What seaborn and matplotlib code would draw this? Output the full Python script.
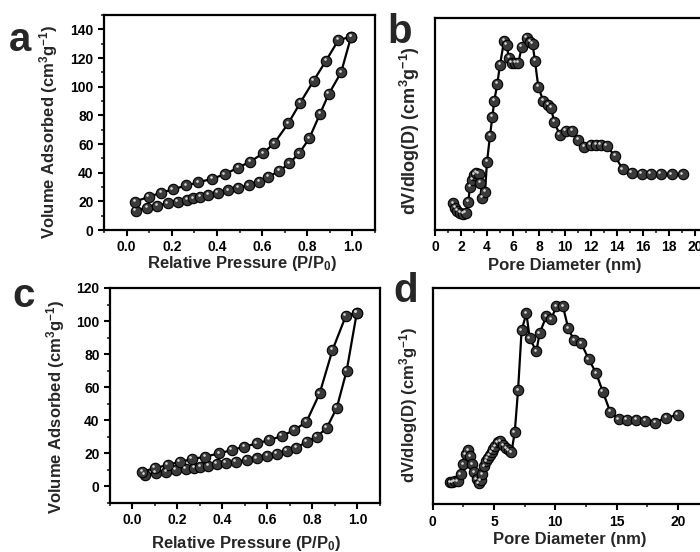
import matplotlib
matplotlib.use('Agg')
import matplotlib.pyplot as plt
import seaborn as sns
from matplotlib.ticker import MultipleLocator, NullLocator
from matplotlib.transforms import offset_copy

# data
# panel a: N2 isotherm (adsorption / desorption branches)
a_ads_p = [0.041, 0.090, 0.135, 0.182, 0.227, 0.268, 0.295, 0.327, 0.360, 0.404, 0.450, 0.495,
           0.540, 0.587, 0.628, 0.676, 0.720, 0.764, 0.809, 0.856, 0.895, 0.950, 0.994]
a_ads_v = [13.5, 15.6, 17.0, 18.6, 19.8, 21.2, 22.1, 23.2, 24.4, 26.0, 27.7, 29.5,
           31.1, 33.7, 37.2, 41.1, 46.5, 53.5, 63.9, 80.9, 94.8, 110.0, 134.8]
a_des_p = [0.994, 0.938, 0.883, 0.828, 0.769, 0.716, 0.653, 0.604, 0.548, 0.493, 0.434, 0.379,
           0.317, 0.264, 0.204, 0.153, 0.098, 0.038]
a_des_v = [134.8, 132.5, 118.1, 104.1, 88.8, 74.4, 60.4, 53.5, 47.7, 43.5, 38.8, 35.8,
           33.2, 31.1, 28.3, 26.0, 23.2, 19.8]

# panel b: pore size distribution (arbitrary units)
b_d = [1.41, 1.55, 1.70, 1.92, 2.15, 2.35, 2.55, 2.70, 2.85, 3.00, 3.15, 3.35, 3.50, 3.65,
       3.85, 4.00, 4.23, 4.41, 4.56, 4.79, 5.00, 5.31, 5.51, 5.69, 5.90, 6.15, 6.41, 6.67,
       7.05, 7.31, 7.51, 7.69, 7.95, 8.33, 8.72, 8.92, 9.18, 9.60, 10.05, 10.55, 11.03, 11.50,
       11.97, 12.38, 12.74, 13.20, 13.85, 14.44, 15.13, 15.90, 16.59, 17.36, 18.21, 19.05]
b_v = [26.7, 22, 19, 17, 16.5, 17, 28, 43, 50, 55, 57, 56, 47, 32,
       38, 68, 94, 113, 129, 146, 165, 189, 185, 172, 167, 167, 167, 183,
       192, 188, 186, 169, 143, 129, 125, 122, 108, 95, 99.5, 99.5, 90, 83.5,
       85, 85.5, 85.5, 84, 74, 60.7, 57.3, 56, 56, 56, 55.7, 55.7]

# panel c: N2 isotherm
c_ads_p = [0.055, 0.104, 0.151, 0.192, 0.237, 0.274, 0.300, 0.336, 0.375, 0.415, 0.459, 0.507,
           0.552, 0.600, 0.641, 0.686, 0.729, 0.775, 0.819, 0.864, 0.908, 0.952, 0.997]
c_ads_v = [7.0, 8.0, 9.0, 10.0, 10.8, 11.2, 12.0, 12.5, 13.5, 14.0, 15.0, 16.0,
           17.0, 18.5, 19.5, 21.5, 23.5, 27.0, 30.0, 35.5, 47.5, 70.0, 105.0]
c_des_p = [0.997, 0.948, 0.889, 0.832, 0.773, 0.718, 0.664, 0.607, 0.552, 0.496, 0.441, 0.385,
           0.323, 0.264, 0.210, 0.156, 0.099, 0.044]
c_des_v = [105.0, 103.0, 82.5, 56.3, 39.0, 34.0, 30.5, 28.0, 26.0, 24.0, 22.0, 20.0,
           18.0, 16.5, 14.8, 13.0, 11.0, 9.0]

# panel d: pore size distribution (arbitrary units)
d_d = [1.45, 1.60, 1.80, 2.05, 2.30, 2.50, 2.70, 2.90, 3.05, 3.20, 3.40, 3.60, 3.75, 3.90,
       4.05, 4.20, 4.35, 4.50, 4.65, 4.80, 4.95, 5.10, 5.30, 5.50, 5.75, 6.00, 6.20, 6.42,
       6.69, 6.96, 7.25, 7.64, 7.91, 8.45, 8.72, 9.26, 9.67, 10.07, 10.62, 11.05, 11.52, 12.11,
       12.73, 13.33, 13.87, 14.47, 15.17, 15.82, 16.58, 17.34, 18.13, 19.02, 19.97]
d_v = [22, 22, 23, 23, 30, 40, 50, 54, 48, 40, 32, 25, 21, 24,
       30, 38, 43, 46, 49, 52, 55, 58, 62, 63, 59, 56, 54, 52,
       72, 114, 174, 191, 166, 153, 171, 188, 185, 198, 198, 176, 164, 161,
       145, 131, 112.6, 92.6, 85, 84.3, 84.3, 83.6, 81.6, 86.6, 89.3]

iso_ylabel = r'Volume Adsorbed (cm$^{3}$g$^{-1}$)'
psd_ylabel = r'dV/dlog(D) (cm$^{3}$g$^{-1}$)'
iso_xlabel = r'Relative Pressure (P/P$_{0}$)'
psd_xlabel = 'Pore Diameter (nm)'

sns.set_theme(style='ticks')
plt.rcParams['font.family'] = ['Liberation Sans', 'DejaVu Sans']
plt.rcParams['font.weight'] = 'bold'
plt.rcParams['axes.labelweight'] = 'bold'
plt.rcParams['mathtext.fontset'] = 'custom'
plt.rcParams['mathtext.rm'] = 'Liberation Sans:bold'
plt.rcParams['mathtext.bf'] = 'Liberation Sans:bold'
plt.rcParams['mathtext.it'] = 'Liberation Sans:bold'
plt.rcParams['mathtext.default'] = 'rm'

fig = plt.figure(figsize=(7, 5.52), dpi=100)
fig.patch.set_facecolor('white')

ax_a = fig.add_axes([0.1486, 0.5833, 0.3871, 0.3895])
ax_b = fig.add_axes([0.6214, 0.5833, 0.3900, 0.3841])
ax_c = fig.add_axes([0.1571, 0.0888, 0.3857, 0.3895])
ax_d = fig.add_axes([0.6181, 0.0864, 0.3943, 0.3913])


def balls(ax, x, y):
    # line + dark "sphere" markers
    sns.lineplot(x=x, y=y, ax=ax, sort=False, estimator=None, color='black', lw=1.6,
                 marker='o', markersize=7.5, markerfacecolor='#3a3a3a',
                 markeredgecolor='black', markeredgewidth=0.8)
    # little shine on each ball
    shine = offset_copy(ax.transData, fig=fig, x=-1.0, y=1.3, units='points')
    ax.scatter(x, y, s=3.5, color='#d8d8d8', linewidths=0, transform=shine, zorder=5)


def style(ax):
    for sp in ax.spines.values():
        sp.set_linewidth(1.6)
        sp.set_color('black')
    ax.tick_params(which='major', direction='out', length=4.5, width=1.5, labelsize=10,
                   pad=3.0, colors='black')
    ax.tick_params(which='minor', direction='out', length=2.5, width=1.2)
    ax.set_facecolor('white')
    for t in ax.get_xticklabels() + ax.get_yticklabels():
        t.set_fontweight('bold')


# a
balls(ax_a, a_ads_p, a_ads_v)
balls(ax_a, a_des_p, a_des_v)
ax_a.set_xlim(-0.1, 1.1)
ax_a.set_ylim(0, 150)
ax_a.set_xticks([0.0, 0.2, 0.4, 0.6, 0.8, 1.0])
ax_a.set_xticklabels(['0.0', '0.2', '0.4', '0.6', '0.8', '1.0'])
ax_a.xaxis.set_minor_locator(MultipleLocator(0.1))
ax_a.set_yticks([0, 20, 40, 60, 80, 100, 120, 140])
ax_a.yaxis.set_minor_locator(MultipleLocator(10))
style(ax_a)
ax_a.set_xlabel(iso_xlabel, fontsize=12, fontweight='bold')
ax_a.set_ylabel(iso_ylabel, fontsize=12, fontweight='bold')
ax_a.xaxis.set_label_coords(0.508, -0.112)
ax_a.yaxis.set_label_coords(-0.162, 0.456)

# b
balls(ax_b, b_d, b_v)
ax_b.set_xlim(0, 21)
ax_b.set_ylim(0, 212)
ax_b.set_xticks(list(range(0, 21, 2)))
ax_b.xaxis.set_minor_locator(MultipleLocator(1))
ax_b.yaxis.set_major_locator(NullLocator())
ax_b.yaxis.set_minor_locator(NullLocator())
style(ax_b)
ax_b.set_xlabel(psd_xlabel, fontsize=12, fontweight='bold')
ax_b.set_ylabel(psd_ylabel, fontsize=13, fontweight='bold')
ax_b.xaxis.set_label_coords(0.476, -0.13)
ax_b.yaxis.set_label_coords(-0.048, 0.468)

# c
balls(ax_c, c_ads_p, c_ads_v)
balls(ax_c, c_des_p, c_des_v)
ax_c.set_xlim(-0.1, 1.1)
ax_c.set_ylim(-10, 120)
ax_c.set_xticks([0.0, 0.2, 0.4, 0.6, 0.8, 1.0])
ax_c.set_xticklabels(['0.0', '0.2', '0.4', '0.6', '0.8', '1.0'])
ax_c.xaxis.set_minor_locator(MultipleLocator(0.1))
ax_c.set_yticks([0, 20, 40, 60, 80, 100, 120])
ax_c.yaxis.set_minor_locator(MultipleLocator(10))
style(ax_c)
ax_c.set_xlabel(iso_xlabel, fontsize=12, fontweight='bold')
ax_c.set_ylabel(iso_ylabel, fontsize=12, fontweight='bold')
ax_c.xaxis.set_label_coords(0.504, -0.142)
ax_c.yaxis.set_label_coords(-0.159, 0.449)

# d
balls(ax_d, d_d, d_v)
ax_d.set_xlim(0, 22.5)
ax_d.set_ylim(0, 216)
ax_d.set_xticks([0, 5, 10, 15, 20])
ax_d.xaxis.set_minor_locator(MultipleLocator(2.5))
ax_d.yaxis.set_major_locator(NullLocator())
ax_d.yaxis.set_minor_locator(NullLocator())
style(ax_d)
ax_d.set_xlabel(psd_xlabel, fontsize=12, fontweight='bold')
ax_d.set_ylabel(psd_ylabel, fontsize=12, fontweight='bold')
ax_d.xaxis.set_label_coords(0.497, -0.13)
ax_d.yaxis.set_label_coords(-0.046, 0.46)

# panel letters
for lab, x, y in [('a', 20 / 700, 1 - 51 / 552), ('b', 400 / 700, 1 - 43 / 552),
                  ('c', 24 / 700, 1 - 307 / 552), ('d', 406 / 700, 1 - 302 / 552)]:
    fig.text(x, y, lab, fontsize=29, fontweight='bold', ha='center', va='baseline')

fig.savefig('out.png', dpi=100, facecolor='white')
